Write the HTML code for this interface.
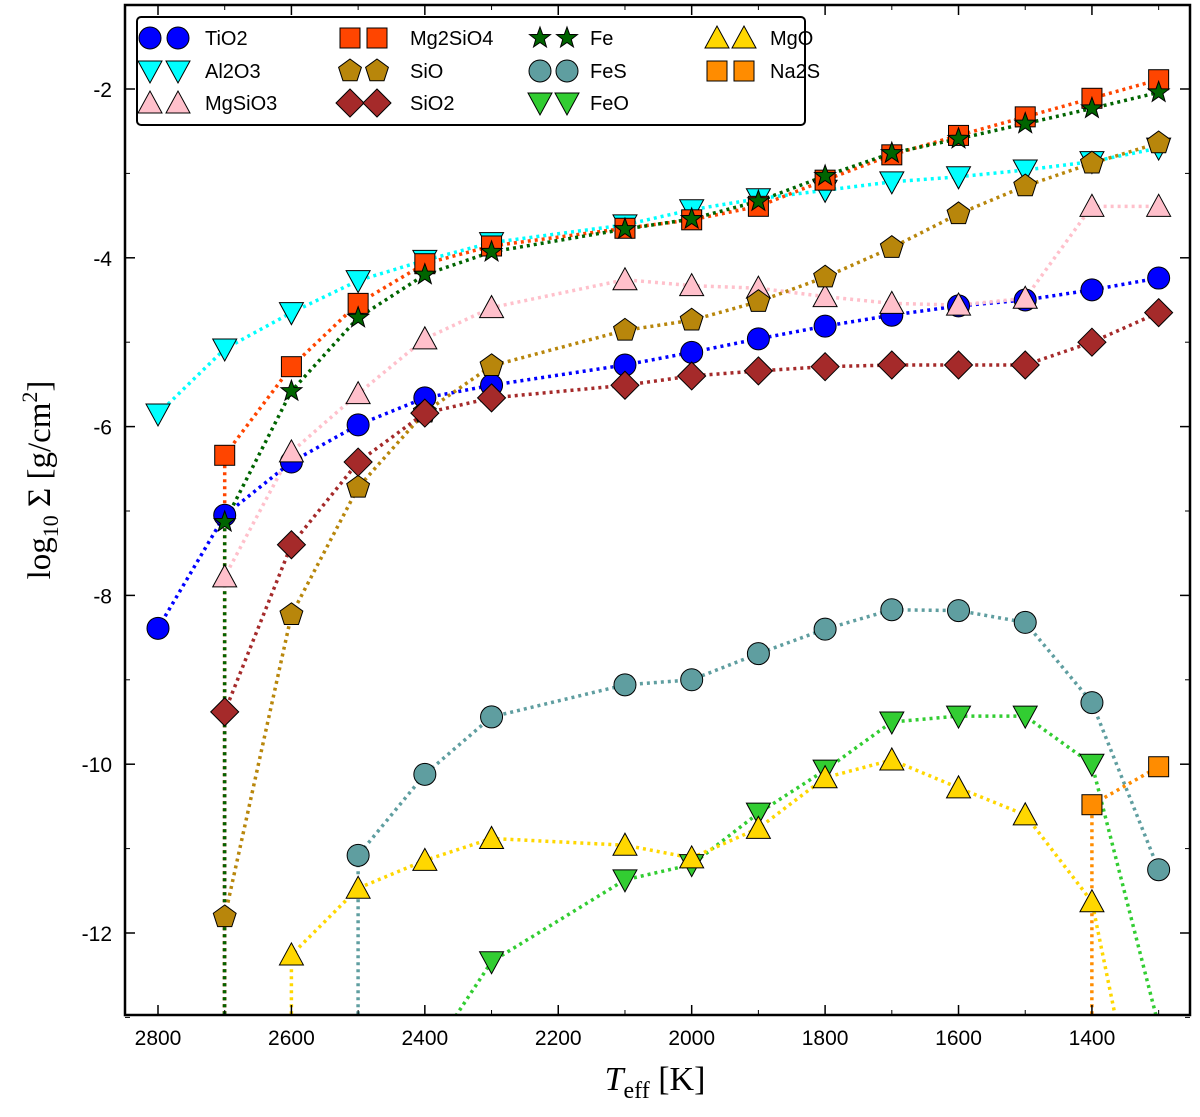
<!DOCTYPE html>
<html><head><meta charset="utf-8"><style>
html,body{margin:0;padding:0;background:#fff;overflow:hidden;width:1200px;height:1117px;}
svg{display:block;}
svg text{font-family:"Liberation Sans",sans-serif;}
</style></head><body>
<svg id="chart" width="1200" height="1117" xmlns="http://www.w3.org/2000/svg">
<defs><clipPath id="clip"><rect x="125" y="5" width="1065" height="1010"/></clipPath></defs>
<g id="plot" clip-path="url(#clip)"></g>
<rect x="125" y="5" width="1065" height="1010" fill="none" stroke="#000" stroke-width="2.5"/>
<g id="axes"></g>
<g id="legend"></g>
<text transform="translate(50,480) rotate(-90)" text-anchor="middle" font-size="33" style="font-family:'Liberation Serif',serif">log<tspan font-size="22" dy="8">10</tspan><tspan dy="-8"> Σ [g/cm</tspan><tspan font-size="22" dy="-13">2</tspan><tspan dy="13">]</tspan></text>
<text x="655" y="1090" text-anchor="middle" font-size="34" style="font-family:'Liberation Serif',serif"><tspan font-style="italic">T</tspan><tspan font-size="24" dy="8">eff</tspan><tspan dy="-8"> [K]</tspan></text>
</svg>
<script>
const temps=[2800,2700,2600,2500,2400,2300,2100,2000,1900,1800,1700,1600,1500,1400,1300];
const xTicks=[2800,2600,2400,2200,2000,1800,1600,1400];
const yTicks=[-2,-4,-6,-8,-10,-12];
const N=null, OFF=-2000;
const TiO2=[-8.39,-7.05,-6.42,-5.98,-5.66,-5.51,-5.27,-5.12,-4.96,-4.81,-4.68,-4.57,-4.50,-4.38,-4.24];
const Al2O3=[-5.85,-5.08,-4.65,-4.27,-4.03,-3.82,-3.61,-3.43,-3.30,-3.20,-3.10,-3.04,-2.96,-2.86,-2.70];
const MgSiO3=[OFF,-7.78,-6.30,-5.61,-4.96,-4.59,-4.26,-4.33,-4.36,-4.46,-4.54,-4.56,-4.48,-3.39,-3.39];
const Mg2SiO4=[OFF,-6.34,-5.29,-4.54,-4.07,-3.86,-3.65,-3.55,-3.39,-3.08,-2.78,-2.55,-2.33,-2.11,-1.89];
const SiO=[OFF,-11.81,-8.23,-6.72,-5.83,-5.28,-4.86,-4.74,-4.52,-4.23,-3.88,-3.48,-3.15,-2.88,-2.64];
const SiO2=[OFF,-9.38,-7.40,-6.42,-5.84,-5.66,-5.51,-5.40,-5.34,-5.29,-5.27,-5.27,-5.27,-5.00,-4.65];
const Fe=[OFF,-7.13,-5.58,-4.71,-4.20,-3.93,-3.66,-3.54,-3.33,-3.03,-2.76,-2.59,-2.41,-2.23,-2.04];
const FeS=[N,N,OFF,-11.08,-10.12,-9.44,-9.06,-9.00,-8.69,-8.40,-8.17,-8.18,-8.32,-9.27,-11.25];
const FeO=[N,N,N,N,-13.54,-12.34,-11.37,-11.19,-10.58,-10.07,-9.50,-9.43,-9.43,-10.00,-13.1];
const MgO=[N,OFF,-12.26,-11.47,-11.14,-10.88,-10.96,-11.11,-10.76,-10.16,-9.95,-10.28,-10.60,-11.63,-15.5];
const Na2S=[N,N,N,N,N,N,N,N,N,N,N,N,OFF,-10.48,-10.03];
const series=[
 {name:'TiO2',v:TiO2,c:'#0000ff',m:'circle'},
 {name:'Al2O3',v:Al2O3,c:'#00ffff',m:'tridown'},
 {name:'MgSiO3',v:MgSiO3,c:'#ffc0cb',m:'triup'},
 {name:'Mg2SiO4',v:Mg2SiO4,c:'#ff4500',m:'square'},
 {name:'SiO',v:SiO,c:'#b8860b',m:'pent'},
 {name:'SiO2',v:SiO2,c:'#a52a2a',m:'diamond'},
 {name:'Fe',v:Fe,c:'#006400',m:'star'},
 {name:'FeS',v:FeS,c:'#5f9ea0',m:'circle'},
 {name:'FeO',v:FeO,c:'#32cd32',m:'tridown'},
 {name:'MgO',v:MgO,c:'#ffd700',m:'triup'},
 {name:'Na2S',v:Na2S,c:'#ff8c00',m:'square'}
];
const X=t=>158+(2800-t)*0.6671;
const Y=v=>89-(v+2)*84.4;
const NS='http://www.w3.org/2000/svg';
function mk(tag,at,parent){const e=document.createElementNS(NS,tag);for(const k in at)e.setAttribute(k,at[k]);parent.appendChild(e);return e;}
function marker(m,x,y,c,parent){
 const r=11;let e;
 const st={fill:c,stroke:'#000','stroke-width':1};
 if(m==='circle')e=mk('circle',Object.assign({cx:x,cy:y,r:r},st),parent);
 else if(m==='square')e=mk('rect',Object.assign({x:x-10,y:y-10,width:20,height:20},st),parent);
 else{let pts;
  if(m==='tridown')pts=[[x-12,y-10],[x+12,y-10],[x,y+12]];
  else if(m==='triup')pts=[[x-12,y+10],[x+12,y+10],[x,y-12]];
  else if(m==='diamond')pts=[[x,y-14],[x+14,y],[x,y+14],[x-14,y]];
  else if(m==='pent'){pts=[];for(let i=0;i<5;i++){const a=-Math.PI/2+i*2*Math.PI/5;pts.push([x+12*Math.cos(a),y+12*Math.sin(a)]);}}
  else if(m==='star'){pts=[];for(let i=0;i<10;i++){const a=-Math.PI/2+i*Math.PI/5;const rr=i%2?4.5:11;pts.push([x+rr*Math.cos(a),y+rr*Math.sin(a)]);}}
  e=mk('polygon',Object.assign({points:pts.map(p=>p.join(',')).join(' ')},st),parent);}
 return e;
}
const plot=document.getElementById('plot');
series.forEach(s=>{
 const g=mk('g',{},plot);
 
 
 const pts=[];s.v.forEach((v,i)=>{if(v!==null)pts.push([X(temps[i]),Y(v)]);});
 const ln=mk('polyline',{points:pts.map(p=>p.join(',')).join(' '),fill:'none',stroke:s.c,'stroke-width':3.5,'stroke-dasharray':'3,4'},g);
 
 
});
series.forEach(s=>{
 s.v.forEach((v,i)=>{if(v===null||v<-14)return;
  const e=marker(s.m,X(temps[i]),Y(v),s.c,plot);
  
  
 });
});
const axes=document.getElementById('axes');
xTicks.forEach(t=>{const x=X(t);
 mk('line',{x1:x,y1:1015,x2:x,y2:1005,stroke:'#000','stroke-width':1.5},axes);
 mk('line',{x1:x,y1:5,x2:x,y2:15,stroke:'#000','stroke-width':1.5},axes);
 const tx=mk('text',{x:x,y:1045,'text-anchor':'middle','font-size':21},axes);tx.textContent=t;
 
 
});
for(let t=2800;t>=1300;t-=100){const x=X(t);if(t%200===0)continue;
 mk('line',{x1:x,y1:1015,x2:x,y2:1010,stroke:'#000','stroke-width':1},axes);
 mk('line',{x1:x,y1:5,x2:x,y2:10,stroke:'#000','stroke-width':1},axes);}
yTicks.forEach(v=>{const y=Y(v);
 mk('line',{x1:125,y1:y,x2:135,y2:y,stroke:'#000','stroke-width':1.5},axes);
 mk('line',{x1:1190,y1:y,x2:1180,y2:y,stroke:'#000','stroke-width':1.5},axes);
 const tx=mk('text',{x:112,y:y+8,'text-anchor':'end','font-size':21},axes);tx.textContent=String(v);
 
 
});
for(let v=-1;v>=-13;v-=1){if(v%2===0)continue;const y=Y(v);
 mk('line',{x1:125,y1:y,x2:130,y2:y,stroke:'#000','stroke-width':1},axes);
 mk('line',{x1:1190,y1:y,x2:1185,y2:y,stroke:'#000','stroke-width':1},axes);}
const lg=document.getElementById('legend');
const box=mk('rect',{x:137,y:17,width:668,height:108,rx:4,fill:'#fff',stroke:'#000','stroke-width':2},lg);


const cols=[[150,178,205],[350,377,410],[540,567,590],[717,744,770]];
const rows=[38,71,103];
series.forEach((s,i)=>{const c=cols[Math.floor(i/3)],y=rows[i%3];
 const g=mk('g',{},lg);
 
 
 marker(s.m,c[0],y,s.c,g);marker(s.m,c[1],y,s.c,g);
 const t=mk('text',{x:c[2],y:y+7,'font-size':20},g);t.textContent=s.name;
});
</script>
</body></html>
